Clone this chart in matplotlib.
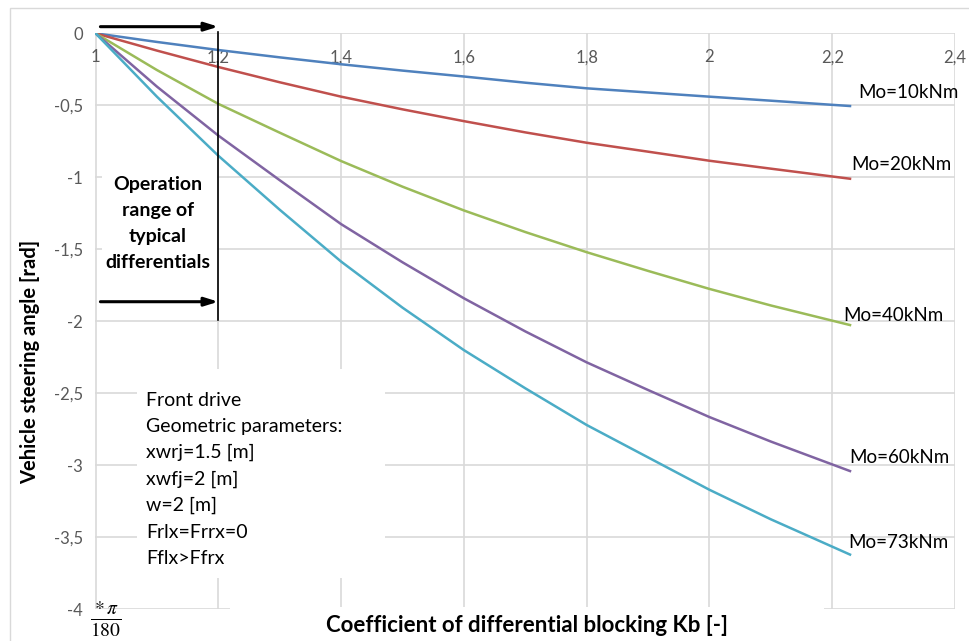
import numpy as np
import matplotlib
matplotlib.use('Agg')
import matplotlib.pyplot as plt
from matplotlib.patches import Rectangle
from matplotlib.ticker import FuncFormatter

plt.rcParams['font.family'] = ['Lato', 'DejaVu Sans']

# datos
kb = [1.0, 1.1, 1.2, 1.3, 1.4, 1.5, 1.6, 1.7, 1.8, 1.9, 2.0, 2.1, 2.229]
mo_10 = [0, -0.06, -0.116, -0.167, -0.215, -0.259, -0.30, -0.343, -0.382, -0.411, -0.44, -0.468, -0.505]
mo_20 = [0, -0.12, -0.234, -0.34, -0.44, -0.528, -0.61, -0.688, -0.76, -0.822, -0.885, -0.94, -1.01]
mo_40 = [0, -0.255, -0.49, -0.69, -0.887, -1.065, -1.23, -1.38, -1.52, -1.65, -1.775, -1.89, -2.026]
mo_60 = [0, -0.37, -0.71, -1.02, -1.325, -1.59, -1.84, -2.07, -2.285, -2.477, -2.665, -2.835, -3.04]
mo_73 = [0, -0.44, -0.85, -1.225, -1.585, -1.905, -2.20, -2.465, -2.72, -2.945, -3.17, -3.375, -3.62]
series_names = ['Mo=10kNm', 'Mo=20kNm', 'Mo=40kNm', 'Mo=60kNm', 'Mo=73kNm']
series_vals = [mo_10, mo_20, mo_40, mo_60, mo_73]

x_ticks = [1.0, 1.2, 1.4, 1.6, 1.8, 2.0, 2.2, 2.4]
y_ticks = [0, -0.5, -1, -1.5, -2, -2.5, -3, -3.5, -4]

params_text = ['Front drive', 'Geometric parameters:', 'xwrj=1.5 [m]', 'xwfj=2 [m]',
               'w=2 [m]', 'Frlx=Frrx=0', 'Fflx>Ffrx']

colors = ['#4F81BD', '#C0504D', '#9BBB59', '#8064A2', '#4BACC6']
label_offsets = [(5.8, 9.9), (0.7, 10.3), (-5, 7.2), (-0.7, 9.9), (-1.4, 8.6)]   # puntos

W, H = 970, 641
fig = plt.figure(figsize=(W / 100, H / 100), dpi=100)
ax = fig.add_axes([95.5 / W, 1 - 609.3 / H, (955 - 95.5) / W, (609.3 - 33.3) / H])

# marco exterior
fig.patches.append(Rectangle((10 / W, -0.1), 1.2, (H - 8) / H + 0.1, transform=fig.transFigure,
                             fill=False, edgecolor='#D9D9D9', linewidth=1))

for name, vals, c, off in zip(series_names, series_vals, colors, label_offsets):
    ax.plot(kb, vals, color=c, linewidth=1.8, zorder=4)
    ax.annotate(name, (kb[-1], vals[-1]), xytext=off, textcoords='offset points',
                fontsize=13.5, color='black', ha='left', va='center', zorder=5)

ax.set_xlim(1, 2.4)
ax.set_ylim(-4, 0)
ax.set_xticks(x_ticks)
ax.set_yticks(y_ticks)
fmt = FuncFormatter(lambda v, p: f'{v:g}'.replace('.', ','))
ax.xaxis.set_major_formatter(fmt)
ax.yaxis.set_major_formatter(fmt)
ax.tick_params(axis='x', top=True, labeltop=True, bottom=False, labelbottom=False,
               length=0, pad=-23, labelsize=12, labelcolor='#595959')
ax.tick_params(axis='y', length=0, pad=9, labelsize=12, labelcolor='#595959')
for s in ax.spines.values():
    s.set_visible(False)
ax.grid(True, color='#D9D9D9', linewidth=1.2)
ax.set_axisbelow(True)

# rango de operacion
ax.add_patch(Rectangle((1.01, -1.75), 0.188, 0.85, facecolor='white', edgecolor='none', zorder=2))
ax.text(1.102, -0.99, 'Operation\nrange of\ntypical\ndifferentials', ha='center', va='top',
        fontsize=14, fontweight='bold', linespacing=1.64, zorder=3)
ax.plot([1.2, 1.2], [0.01, -1.99], color='black', linewidth=1.2, zorder=5, clip_on=False)
for ya in [0.046, -1.864]:
    ax.annotate('', xy=(1.2, ya), xytext=(1.008, ya), zorder=6, annotation_clip=False,
                arrowprops=dict(arrowstyle='-|>,head_length=0.8,head_width=0.25', color='black', lw=2.2,
                                shrinkA=0, shrinkB=0))

# caja de parametros
ax.add_patch(Rectangle((1.068, -3.783), 0.404, 1.452, facecolor='white', edgecolor='none', zorder=2))
ax.text(1.082, -2.49, '\n'.join(params_text), ha='left', va='top', fontsize=14,
        linespacing=1.65, zorder=3)

# tapa linea inferior bajo el titulo del eje x
fig.patches.append(Rectangle((230 / W, 1 - 613 / H), (824 - 230) / W, 6 / H, transform=fig.transFigure,
                             facecolor='white', edgecolor='none', zorder=5))

fig.text(527 / W, 1 - 625 / H, 'Coefficient of differential blocking Kb [-]', ha='center', va='center',
         fontsize=16, fontweight='bold')
fig.text(30 / W, 1 - 362 / H, 'Vehicle steering angle [rad]', ha='center', va='center', rotation=90,
         fontsize=14.5, fontweight='bold')
fig.text(106 / W, 1 - 619 / H, r'$\frac{*\,\pi}{180}$', ha='center', va='center', fontsize=20,
         math_fontfamily='stix')

fig.savefig('out.png', dpi=100)
